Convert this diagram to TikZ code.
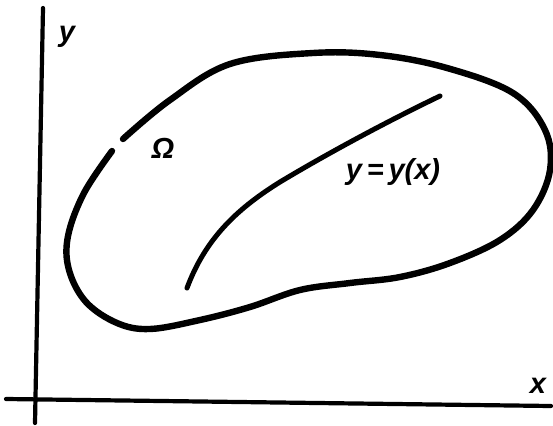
\documentclass[tikz,border=0pt]{standalone}
\usepackage{fontspec}
\setmainfont{Liberation Sans}
\begin{document}
\begin{tikzpicture}[x=1pt,y=-1pt,
  axis/.style={line width=4.2pt,line cap=round},
  boundary/.style={line width=6.4pt,line cap=round},
  graphline/.style={line width=5pt,line cap=round},
  lbl/.style={font=\fontsize{29}{31}\selectfont\bfseries\itshape,inner sep=0pt}]
\useasboundingbox (0,0) rectangle (553,425);
% axes
\coordinate (ytop) at (43,8);
\coordinate (ybot) at (35,423);
\coordinate (xleft) at (6,399);
\coordinate (xright) at (551,406);
\draw[axis] (ybot) -- (ytop);
\draw[axis] (xleft) -- (xright);
\node[lbl] (ylab) at (67,37) {y};
\node[lbl] (xlab) at (538,386) {x};
% region boundary (with a gap)
\draw[boundary] plot[smooth,tension=0.6] coordinates {
 (123,139) (170,100) (230,64) (313,53) (380,55) (447,68) (513,93)
 (545,130) (550,170) (533,210) (500,240) (450,263) (400,277) (350,283)
 (300,290) (250,307) (200,320) (150,329) (117,323) (86,302) (69,270)
 (68,236) (84,193) (112,151)};
\node[lbl] (omega) at (163,148) {Ω};
% curve y = y(x)
\coordinate (gstart) at (187,288);
\coordinate (gmid) at (280,182);
\coordinate (gend) at (440,96);
\draw[graphline] (gstart) .. controls (205,240) and (235,210) .. (gmid)
  .. controls (330,152) and (390,120) .. (gend);
\node[lbl] (ylabel) at (393,172) {y\,=\,y(x)};
\end{tikzpicture}
\end{document}
